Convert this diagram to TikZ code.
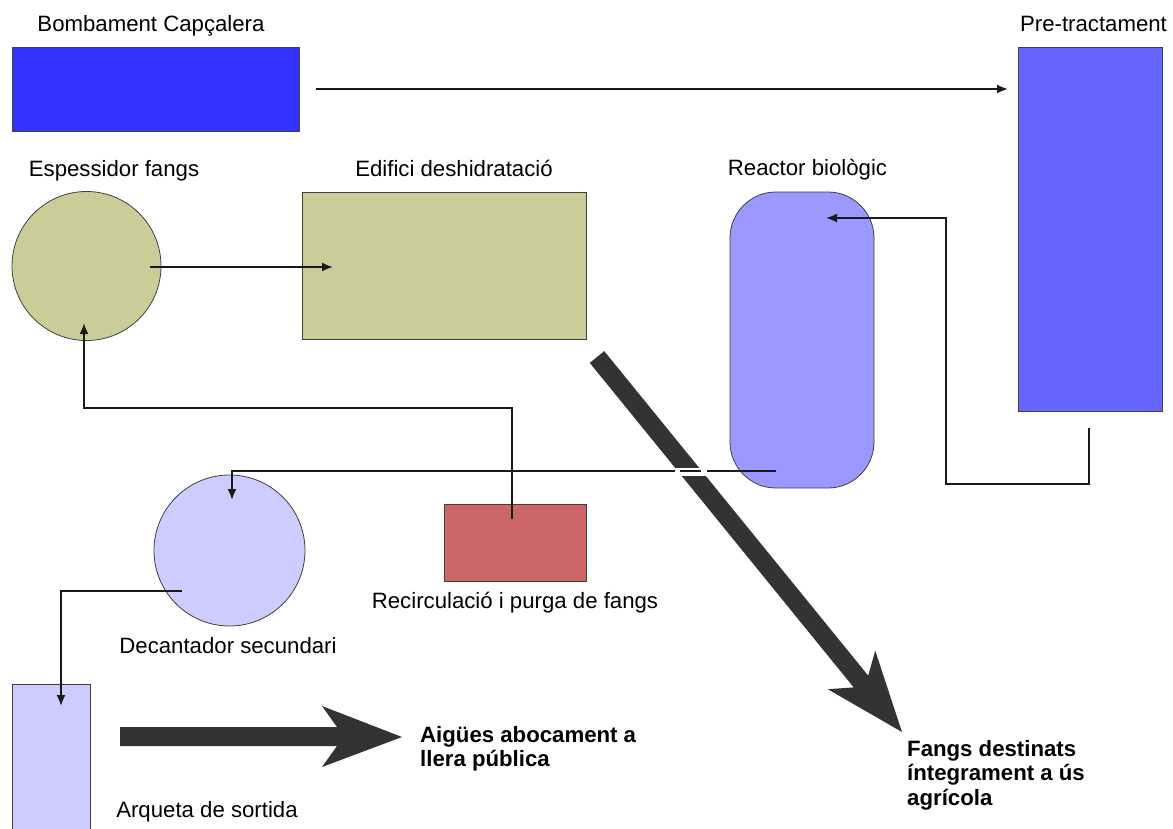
\documentclass[tikz,border=0pt]{standalone}
\usepackage{fontspec}
\setmainfont{Liberation Sans}
\usetikzlibrary{arrows.meta}
\definecolor{cBomb}{HTML}{3333FF}
\definecolor{cPre}{HTML}{6666FF}
\definecolor{cReac}{HTML}{9999FF}
\definecolor{cLight}{HTML}{CCCCFF}
\definecolor{cOlive}{HTML}{CCCC99}
\definecolor{cRed}{HTML}{CC6666}
\definecolor{cBig}{HTML}{333333}
\tikzset{
  box/.style={draw=black!75, line width=0.8pt, inner sep=0pt},
  circ/.style={draw=black!75, line width=0.8pt, circle, inner sep=0pt},
  lbl/.style={anchor=base, inner sep=0pt, font=\fontsize{22.2}{25}\selectfont},
  blbl/.style={anchor=north west, inner sep=0pt, align=left, font=\fontsize{22.2}{24.5}\selectfont\bfseries},
  conn/.style={line width=1.8pt, black!90, -{Latex[length=11pt,width=9pt]}},
  plain/.style={line width=1.8pt, black!90},
  bigarrow/.style={fill=cBig, draw=none}
}
\begin{document}
\begin{tikzpicture}[x=1pt,y=-1pt]
\clip (0,0) rectangle (1173,828);
\fill[white] (0,0) rectangle (1173,828);

% shapes
\node[box, fill=cBomb, minimum width=287pt, minimum height=84pt] (bomb) at (155.5,89) {};
\node[box, fill=cPre, minimum width=144pt, minimum height=364pt] (pre) at (1090,229) {};
\node[circ, fill=cOlive, minimum size=149pt] (esp) at (86.5,266) {};
\node[box, fill=cOlive, minimum width=284pt, minimum height=147pt] (edif) at (444,265.5) {};
\node[box, fill=cReac, rounded corners=46pt, minimum width=144pt, minimum height=296pt] (reac) at (802,340) {};
\node[circ, fill=cLight, minimum size=151pt] (dec) at (229.5,550.5) {};
\node[box, fill=cLight, minimum width=78pt, minimum height=156pt] (arq) at (51,762) {};
\node[box, fill=cRed, minimum width=142pt, minimum height=77pt] (rec) at (515,542.5) {};

% labels
\node[lbl] (tbomb) at (151,31) {Bombament Capçalera};
\node[lbl] (tpre) at (1093.5,31) {Pre-tractament};
\node[lbl] (tesp) at (114,176) {Espessidor fangs};
\node[lbl] (tedif) at (454,176) {Edifici deshidratació};
\node[lbl] (treac) at (807.5,175) {Reactor biològic};
\node[lbl] (trec) at (515,608) {Recirculació i purga de fangs};
\node[lbl] (tdec) at (228,653) {Decantador secundari};
\node[lbl] (tarq) at (207,817) {Arqueta de sortida};
\node[blbl] (taig) at (420,726) {Aigües abocament a\\llera pública};
\node[blbl] (tfan) at (907,740) {Fangs destinats\\íntegrament a ús\\agrícola};

% big arrows
\fill[bigarrow] (589.8,362.9) -- (853.7,687.4) -- (827.8,689.2) -- (902,732)
  -- (875.2,650.6) -- (868.2,675.6) -- (604.2,351.1) -- cycle;
\fill[bigarrow] (120,727) -- (337,727) -- (322,706) -- (402,737)
  -- (322,767) -- (337,746) -- (120,746) -- cycle;

% connector points
\coordinate (b1) at (316,89);
\coordinate (p1) at (1008,89);
\coordinate (e1) at (150,267);
\coordinate (d1) at (333,267);
\coordinate (pr0) at (1089,428);
\coordinate (re1) at (826,218);
\coordinate (re2) at (776,471);
\coordinate (de1) at (232,500);
\coordinate (de2) at (182,591);
\coordinate (ar1) at (61,706);
\coordinate (rc1) at (512,519);
\coordinate (es1) at (84,323);

% connectors
\draw[conn] (b1) -- (p1);
\draw[conn] (e1) -- (d1);
\draw[conn] (pr0) -- (1089,484) -- (946,484) -- (946,218) -- (re1);
% reactor -> decantador, crossing the big arrow
\fill[white] (668,467.5) rectangle (714,475.5);
\draw[plain] (re2) -- (707,471);
\draw[plain] (701,471) -- (680,471);
\draw[conn] (675,471) -- (232,471) -- (de1);
\draw[conn] (de2) -- (61,591) -- (ar1);
\draw[conn] (rc1) -- (512,408) -- (84,408) -- (es1);
\end{tikzpicture}
\end{document}
